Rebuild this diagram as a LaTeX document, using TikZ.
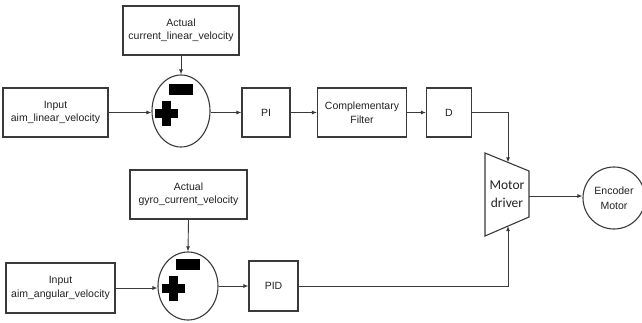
\documentclass[tikz,border=0pt]{standalone}
\usepackage{fontspec}
\setmainfont{Liberation Sans}
\newfontfamily\calib{Carlito}
\usetikzlibrary{shapes.geometric,arrows.meta,calc}
\definecolor{ln}{HTML}{3A3A3A}
\definecolor{tx}{HTML}{222222}
\begin{document}
\begin{tikzpicture}[x=1pt,y=-1pt,
  blk/.style={draw=ln,line width=1.1pt,fill=white,text=tx,align=center,inner sep=0pt,
    font=\fontsize{10.5}{13.5}\selectfont},
  sumnode/.style={draw=ln,line width=1.1pt,ellipse,inner sep=0pt},
  conn/.style={draw=ln,line width=0.9pt,-{Latex[length=5pt,width=4pt]}},
  signfill/.style={fill=black}]
\useasboundingbox (0,0) rectangle (642,322);
\fill[white] (0,0) rectangle (642,322);

% upper row
\node[blk,minimum width=116pt,minimum height=49pt] (act1) at (181,30.5) {Actual\\current\_linear\_velocity};
\node[blk,minimum width=105pt,minimum height=49pt] (in1) at (55.5,112.5) {Input\\aim\_linear\_velocity};
\node[sumnode,minimum width=58pt,minimum height=72pt] (s1) at (181,111) {};
\node[blk,minimum width=48pt,minimum height=49pt] (pi) at (266,112.5) {PI};
\node[blk,minimum width=89pt,minimum height=49pt] (cf) at (362,112.5) {Complementary\\Filter};
\node[blk,minimum width=45pt,minimum height=49pt] (d) at (449,112.5) {D};

% lower row
\node[blk,minimum width=117pt,minimum height=49pt] (act2) at (188.5,194.5) {Actual\\gyro\_current\_velocity};
\node[blk,minimum width=109pt,minimum height=50pt] (in2) at (60.5,288) {Input\\aim\_angular\_velocity};
\node[sumnode,minimum width=60pt,minimum height=68pt] (s2) at (188,286) {};
\node[blk,minimum width=49pt,minimum height=50pt] (pid) at (273.5,286) {PID};

% plus / minus signs
\foreach \s in {s1,s2}{
  \fill[signfill] ($(\s.center)+(-12,-27)$) rectangle ($(\s.center)+(12,-16)$);
  \fill[signfill] ($(\s.center)+(-19.5,-10.5)$) rectangle ($(\s.center)+(-10.5,14.5)$);
  \fill[signfill] ($(\s.center)+(-26.5,-2.5)$) rectangle ($(\s.center)+(-3.5,6.5)$);
}

% motor driver trapezoid
\coordinate (tl) at (485,153);
\coordinate (tr) at (529,171);
\coordinate (br) at (529,217);
\coordinate (bl) at (485,236);
\draw[ln,line width=1.1pt,fill=white] (tl) -- (tr) -- (br) -- (bl) -- cycle;
\node[text=tx,align=center,inner sep=0pt,font=\calib\fontsize{13.5}{18.5}\selectfont] (md) at (507,194) {Motor\\driver};
\coordinate (mdtop) at ($(tl)!0.523!(tr)$);
\coordinate (mdbot) at ($(bl)!0.523!(br)$);
\coordinate (mdout) at (529,196);

\node[draw=ln,line width=1.1pt,circle,minimum size=62pt,inner sep=0pt,align=center,text=tx,
  font=\fontsize{10.5}{15}\selectfont] (enc) at (614,198) {Encoder\\Motor};

% connectors
\draw[conn] (act1.south) -- (s1.north);
\draw[conn] (in1.east) -- (in1.east -| s1.west);
\draw[conn] (s1.east |- pi.west) -- (pi.west);
\draw[conn] (pi.east) -- (cf.west);
\draw[conn] (cf.east) -- (d.west);
\draw[conn] (d.east) -| (mdtop);
\draw[conn] (act2.south) -- (s2.north);
\draw[conn] (in2.east) -- (s2.west |- in2.east);
\draw[conn] (s2.east |- pid.west) -- (pid.west);
\draw[conn] (pid.east) -| (mdbot);
\draw[conn] (mdout) -- (enc.west |- mdout);
\end{tikzpicture}
\end{document}
